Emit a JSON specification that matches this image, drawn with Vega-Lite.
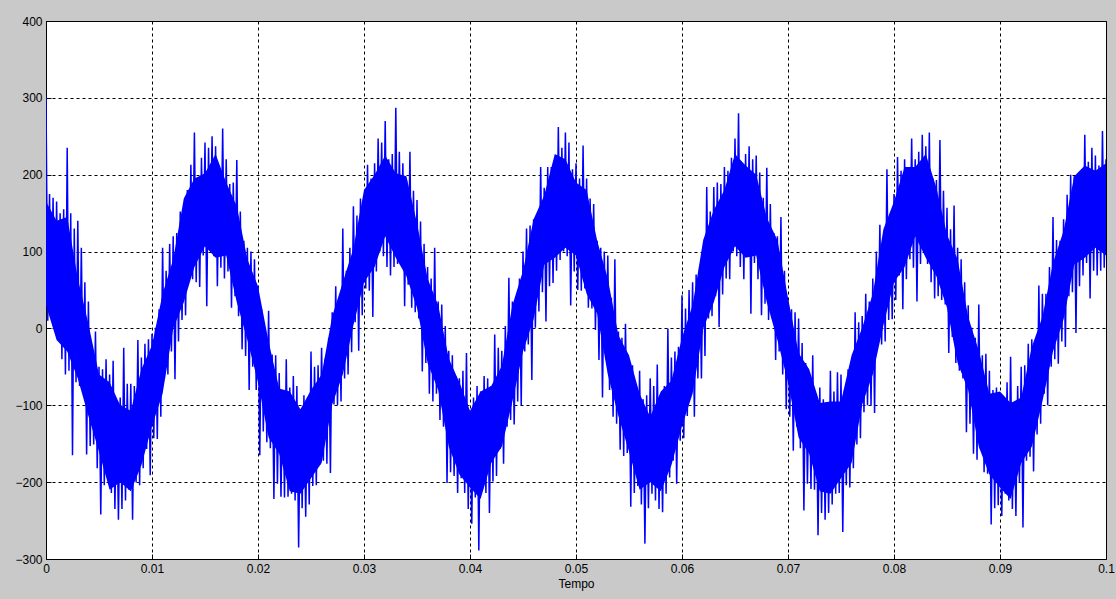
{
"$schema": "https://vega.github.io/schema/vega-lite/v6.json",
"width": 1060,
"height": 538,
"autosize": {"type": "none"},
"padding": {"left": 46, "top": 21, "right": 10, "bottom": 40},
"background": "#c9c9c9",
"config": {
"view": {"fill": "#ffffff", "stroke": "#000000", "strokeWidth": 1},
"axis": {"labelFont": "Liberation Sans", "labelFontSize": 12, "labelColor": "#000000", "titleFont": "Liberation Sans", "titleFontSize": 12, "titleFontWeight": "normal", "titleColor": "#000000", "grid": true, "gridColor": "#000000", "gridDash": [3, 3], "gridOpacity": 1, "gridWidth": 1, "domain": false, "ticks": true, "tickColor": "#000000", "tickSize": -5, "tickWidth": 1, "labelPadding": 9, "labelFlush": false, "labelOverlap": false, "labelBound": false}
},
"datasets": {
"core": [
{"t":0,"lo":30,"hi":165},{"t":0.001,"lo":-15,"hi":140},{"t":0.002,"lo":-30,"hi":145},{"t":0.003,"lo":-65,"hi":65},{"t":0.004,"lo":-114,"hi":6},
{"t":0.005,"lo":-160,"hi":-60},{"t":0.006,"lo":-210,"hi":-70},{"t":0.007,"lo":-200,"hi":-100},{"t":0.008,"lo":-212,"hi":-107},{"t":0.009,"lo":-178,"hi":-53},
{"t":0.01,"lo":-127,"hi":-22},{"t":0.011,"lo":-85,"hi":45},{"t":0.012,"lo":0,"hi":90},{"t":0.013,"lo":34,"hi":169},{"t":0.014,"lo":80,"hi":195},
{"t":0.015,"lo":107,"hi":202},{"t":0.016,"lo":92,"hi":227},{"t":0.017,"lo":95,"hi":190},{"t":0.018,"lo":34,"hi":159},{"t":0.019,"lo":-15,"hi":90},
{"t":0.02,"lo":-70,"hi":55},{"t":0.021,"lo":-142,"hi":-17},{"t":0.022,"lo":-163,"hi":-78},{"t":0.023,"lo":-212,"hi":-82},{"t":0.024,"lo":-215,"hi":-105},
{"t":0.025,"lo":-195,"hi":-80},{"t":0.026,"lo":-175,"hi":-60},{"t":0.027,"lo":-99,"hi":16},{"t":0.028,"lo":-60,"hi":60},{"t":0.029,"lo":4,"hi":104},
{"t":0.03,"lo":60,"hi":180},{"t":0.031,"lo":80,"hi":200},{"t":0.032,"lo":120,"hi":225},{"t":0.033,"lo":92,"hi":202},{"t":0.034,"lo":68,"hi":198},
{"t":0.035,"lo":27,"hi":137},{"t":0.036,"lo":-45,"hi":65},{"t":0.037,"lo":-80,"hi":30},{"t":0.038,"lo":-154,"hi":-39},{"t":0.039,"lo":-190,"hi":-70},
{"t":0.04,"lo":-207,"hi":-107},{"t":0.041,"lo":-222,"hi":-82},{"t":0.042,"lo":-175,"hi":-75},{"t":0.043,"lo":-154,"hi":-49},{"t":0.044,"lo":-95,"hi":30},
{"t":0.045,"lo":-30,"hi":75},{"t":0.046,"lo":12,"hi":142},{"t":0.047,"lo":83,"hi":173},{"t":0.048,"lo":92,"hi":227},{"t":0.049,"lo":105,"hi":220},
{"t":0.05,"lo":95,"hi":190},{"t":0.051,"lo":45,"hi":180},{"t":0.052,"lo":19,"hi":114},{"t":0.053,"lo":-60,"hi":65},{"t":0.054,"lo":-114,"hi":-9},
{"t":0.055,"lo":-160,"hi":-35},{"t":0.056,"lo":-210,"hi":-85},{"t":0.057,"lo":-200,"hi":-115},{"t":0.058,"lo":-212,"hi":-82},{"t":0.059,"lo":-178,"hi":-68},
{"t":0.06,"lo":-127,"hi":-12},{"t":0.061,"lo":-85,"hi":30},{"t":0.062,"lo":0,"hi":115},{"t":0.063,"lo":34,"hi":154},{"t":0.064,"lo":80,"hi":180},
{"t":0.065,"lo":107,"hi":227},{"t":0.066,"lo":92,"hi":212},{"t":0.067,"lo":95,"hi":200},{"t":0.068,"lo":34,"hi":144},{"t":0.069,"lo":-15,"hi":115},
{"t":0.07,"lo":-70,"hi":40},{"t":0.071,"lo":-142,"hi":-32},{"t":0.072,"lo":-163,"hi":-53},{"t":0.073,"lo":-212,"hi":-97},{"t":0.074,"lo":-215,"hi":-95},
{"t":0.075,"lo":-195,"hi":-95},{"t":0.076,"lo":-175,"hi":-35},{"t":0.077,"lo":-99,"hi":1},{"t":0.078,"lo":-60,"hi":45},{"t":0.079,"lo":4,"hi":129},
{"t":0.08,"lo":60,"hi":165},{"t":0.081,"lo":80,"hi":210},{"t":0.082,"lo":120,"hi":210},{"t":0.083,"lo":92,"hi":227},{"t":0.084,"lo":68,"hi":183},
{"t":0.085,"lo":27,"hi":122},{"t":0.086,"lo":-45,"hi":90},{"t":0.087,"lo":-80,"hi":15},{"t":0.088,"lo":-154,"hi":-29},{"t":0.089,"lo":-190,"hi":-85},
{"t":0.09,"lo":-207,"hi":-82},{"t":0.091,"lo":-222,"hi":-97},{"t":0.092,"lo":-175,"hi":-90},{"t":0.093,"lo":-154,"hi":-24},{"t":0.094,"lo":-95,"hi":15},
{"t":0.095,"lo":-30,"hi":85},{"t":0.096,"lo":12,"hi":127},{"t":0.097,"lo":83,"hi":198},{"t":0.098,"lo":92,"hi":212},{"t":0.099,"lo":105,"hi":205},
{"t":0.1,"lo":95,"hi":215}
],
"sig": [
{"t":0,"v":300},{"t":0.000167,"v":10},{"t":0.000333,"v":175},{"t":0.0005,"v":25},{"t":0.000667,"v":170},{"t":0.000833,"v":5},
{"t":0.001,"v":165},{"t":0.001167,"v":20},{"t":0.001333,"v":150},{"t":0.0015,"v":-40},{"t":0.001667,"v":155},{"t":0.001833,"v":-60},
{"t":0.002,"v":235},{"t":0.002167,"v":-55},{"t":0.002333,"v":150},{"t":0.0025,"v":-165},{"t":0.002667,"v":130},{"t":0.002833,"v":-70},
{"t":0.003,"v":140},{"t":0.003167,"v":-75},{"t":0.003333,"v":105},{"t":0.0035,"v":-80},{"t":0.003667,"v":60},{"t":0.003833,"v":-164},
{"t":0.004,"v":35},{"t":0.004167,"v":-153},{"t":0.004333,"v":-22},{"t":0.0045,"v":-151},{"t":0.004667,"v":-4},{"t":0.004833,"v":-182},
{"t":0.005,"v":-50},{"t":0.005167,"v":-242},{"t":0.005333,"v":-53},{"t":0.0055,"v":-204},{"t":0.005667,"v":-40},{"t":0.005833,"v":-195},
{"t":0.006,"v":-60},{"t":0.006167,"v":-214},{"t":0.006333,"v":-42},{"t":0.0065,"v":-235},{"t":0.006667,"v":-97},{"t":0.006833,"v":-249},
{"t":0.007,"v":-90},{"t":0.007167,"v":-235},{"t":0.007333,"v":-25},{"t":0.0075,"v":-224},{"t":0.007667,"v":-72},{"t":0.007833,"v":-210},
{"t":0.008,"v":-72},{"t":0.008167,"v":-249},{"t":0.008333,"v":-75},{"t":0.0085,"v":-200},{"t":0.008667,"v":-15},{"t":0.008833,"v":-204},
{"t":0.009,"v":-38},{"t":0.009167,"v":-182},{"t":0.009333,"v":-20},{"t":0.0095,"v":-157},{"t":0.009667,"v":-14},{"t":0.009833,"v":-191},
{"t":0.01,"v":-7},{"t":0.010167,"v":-143},{"t":0.010333,"v":1},{"t":0.0105,"v":-144},{"t":0.010667,"v":25},{"t":0.010833,"v":-115},
{"t":0.011,"v":105},{"t":0.011167,"v":-65},{"t":0.011333,"v":75},{"t":0.0115,"v":-60},{"t":0.011667,"v":110},{"t":0.011833,"v":-30},
{"t":0.012,"v":120},{"t":0.012167,"v":-66},{"t":0.012333,"v":124},{"t":0.0125,"v":-17},{"t":0.012667,"v":152},{"t":0.012833,"v":11},
{"t":0.013,"v":154},{"t":0.013167,"v":17},{"t":0.013333,"v":180},{"t":0.0135,"v":62},{"t":0.013667,"v":213},{"t":0.013833,"v":64},
{"t":0.014,"v":255},{"t":0.014167,"v":60},{"t":0.014333,"v":195},{"t":0.0145,"v":54},{"t":0.014667,"v":222},{"t":0.014833,"v":95},
{"t":0.015,"v":242},{"t":0.015167,"v":29},{"t":0.015333,"v":235},{"t":0.0155,"v":105},{"t":0.015667,"v":250},{"t":0.015833,"v":94},
{"t":0.016,"v":237},{"t":0.016167,"v":55},{"t":0.016333,"v":212},{"t":0.0165,"v":79},{"t":0.016667,"v":260},{"t":0.016833,"v":65},
{"t":0.017,"v":220},{"t":0.017167,"v":74},{"t":0.017333,"v":188},{"t":0.0175,"v":27},{"t":0.017667,"v":190},{"t":0.017833,"v":42},
{"t":0.018,"v":219},{"t":0.018167,"v":16},{"t":0.018333,"v":152},{"t":0.0185,"v":-27},{"t":0.018667,"v":114},{"t":0.018833,"v":-36},
{"t":0.019,"v":105},{"t":0.019167,"v":-80},{"t":0.019333,"v":100},{"t":0.0195,"v":-50},{"t":0.019667,"v":90},{"t":0.019833,"v":-80},
{"t":0.02,"v":55},{"t":0.020167,"v":-165},{"t":0.020333,"v":25},{"t":0.0205,"v":-134},{"t":0.020667,"v":-4},{"t":0.020833,"v":-148},
{"t":0.021,"v":23},{"t":0.021167,"v":-156},{"t":0.021333,"v":-34},{"t":0.0215,"v":-222},{"t":0.021667,"v":-35},{"t":0.021833,"v":-202},
{"t":0.022,"v":-58},{"t":0.022167,"v":-219},{"t":0.022333,"v":-80},{"t":0.0225,"v":-220},{"t":0.022667,"v":-40},{"t":0.022833,"v":-219},
{"t":0.023,"v":-77},{"t":0.023167,"v":-215},{"t":0.023333,"v":-62},{"t":0.0235,"v":-224},{"t":0.023667,"v":-75},{"t":0.023833,"v":-285},
{"t":0.024,"v":-105},{"t":0.024167,"v":-234},{"t":0.024333,"v":-87},{"t":0.0245,"v":-245},{"t":0.024667,"v":-92},{"t":0.024833,"v":-229},
{"t":0.025,"v":-30},{"t":0.025167,"v":-205},{"t":0.025333,"v":-50},{"t":0.0255,"v":-204},{"t":0.025667,"v":-48},{"t":0.025833,"v":-177},
{"t":0.026,"v":-25},{"t":0.026167,"v":-172},{"t":0.026333,"v":-39},{"t":0.0265,"v":-176},{"t":0.026667,"v":-12},{"t":0.026833,"v":-188},
{"t":0.027,"v":21},{"t":0.027167,"v":-99},{"t":0.027333,"v":55},{"t":0.0275,"v":-100},{"t":0.027667,"v":40},{"t":0.027833,"v":-95},
{"t":0.028,"v":130},{"t":0.028167,"v":-65},{"t":0.028333,"v":75},{"t":0.0285,"v":-60},{"t":0.028667,"v":105},{"t":0.028833,"v":-31},
{"t":0.029,"v":159},{"t":0.029167,"v":8},{"t":0.029333,"v":147},{"t":0.0295,"v":-29},{"t":0.029667,"v":169},{"t":0.029833,"v":17},
{"t":0.03,"v":165},{"t":0.030167,"v":52},{"t":0.030333,"v":213},{"t":0.0305,"v":49},{"t":0.030667,"v":195},{"t":0.030833,"v":15},
{"t":0.031,"v":215},{"t":0.031167,"v":74},{"t":0.031333,"v":247},{"t":0.0315,"v":100},{"t":0.031667,"v":242},{"t":0.031833,"v":94},
{"t":0.032,"v":270},{"t":0.032167,"v":80},{"t":0.032333,"v":220},{"t":0.0325,"v":69},{"t":0.032667,"v":227},{"t":0.032833,"v":80},
{"t":0.033,"v":287},{"t":0.033167,"v":84},{"t":0.033333,"v":230},{"t":0.0335,"v":85},{"t":0.033667,"v":215},{"t":0.033833,"v":29},
{"t":0.034,"v":193},{"t":0.034167,"v":57},{"t":0.034333,"v":230},{"t":0.0345,"v":27},{"t":0.034667,"v":179},{"t":0.034833,"v":21},
{"t":0.035,"v":167},{"t":0.035167,"v":13},{"t":0.035333,"v":139},{"t":0.0355,"v":-56},{"t":0.035667,"v":110},{"t":0.035833,"v":-45},
{"t":0.036,"v":80},{"t":0.036167,"v":-85},{"t":0.036333,"v":65},{"t":0.0365,"v":-95},{"t":0.036667,"v":105},{"t":0.036833,"v":-85},
{"t":0.037,"v":35},{"t":0.037167,"v":-119},{"t":0.037333,"v":31},{"t":0.0375,"v":-128},{"t":0.037667,"v":3},{"t":0.037833,"v":-201},
{"t":0.038,"v":-29},{"t":0.038167,"v":-187},{"t":0.038333,"v":-35},{"t":0.0385,"v":-192},{"t":0.038667,"v":-63},{"t":0.038833,"v":-214},
{"t":0.039,"v":-65},{"t":0.039167,"v":-195},{"t":0.039333,"v":-55},{"t":0.0395,"v":-214},{"t":0.039667,"v":-32},{"t":0.039833,"v":-235},
{"t":0.04,"v":-107},{"t":0.040167,"v":-254},{"t":0.040333,"v":-90},{"t":0.0405,"v":-220},{"t":0.040667,"v":-75},{"t":0.040833,"v":-289},
{"t":0.041,"v":-82},{"t":0.041167,"v":-210},{"t":0.041333,"v":-62},{"t":0.0415,"v":-214},{"t":0.041667,"v":-65},{"t":0.041833,"v":-240},
{"t":0.042,"v":-75},{"t":0.042167,"v":-199},{"t":0.042333,"v":-8},{"t":0.0425,"v":-192},{"t":0.042667,"v":-25},{"t":0.042833,"v":-157},
{"t":0.043,"v":-29},{"t":0.043167,"v":-176},{"t":0.043333,"v":3},{"t":0.0435,"v":-128},{"t":0.043667,"v":66},{"t":0.043833,"v":-119},
{"t":0.044,"v":35},{"t":0.044167,"v":-125},{"t":0.044333,"v":35},{"t":0.0445,"v":-95},{"t":0.044667,"v":65},{"t":0.044833,"v":-100},
{"t":0.045,"v":100},{"t":0.045167,"v":-30},{"t":0.045333,"v":130},{"t":0.0455,"v":-21},{"t":0.045667,"v":134},{"t":0.045833,"v":-67},
{"t":0.046,"v":142},{"t":0.046167,"v":1},{"t":0.046333,"v":149},{"t":0.0465,"v":22},{"t":0.046667,"v":210},{"t":0.046833,"v":47},
{"t":0.047,"v":183},{"t":0.047167,"v":9},{"t":0.047333,"v":210},{"t":0.0475,"v":55},{"t":0.047667,"v":210},{"t":0.047833,"v":59},
{"t":0.048,"v":207},{"t":0.048167,"v":75},{"t":0.048333,"v":262},{"t":0.0485,"v":89},{"t":0.048667,"v":235},{"t":0.048833,"v":100},
{"t":0.049,"v":255},{"t":0.049167,"v":94},{"t":0.049333,"v":242},{"t":0.0495,"v":30},{"t":0.049667,"v":207},{"t":0.049833,"v":74},
{"t":0.05,"v":215},{"t":0.050167,"v":50},{"t":0.050333,"v":195},{"t":0.0505,"v":49},{"t":0.050667,"v":238},{"t":0.050833,"v":52},
{"t":0.051,"v":195},{"t":0.051167,"v":27},{"t":0.051333,"v":169},{"t":0.0515,"v":26},{"t":0.051667,"v":162},{"t":0.051833,"v":-2},
{"t":0.052,"v":114},{"t":0.052167,"v":-41},{"t":0.052333,"v":105},{"t":0.0525,"v":-90},{"t":0.052667,"v":100},{"t":0.052833,"v":-40},
{"t":0.053,"v":95},{"t":0.053167,"v":-80},{"t":0.053333,"v":40},{"t":0.0535,"v":-115},{"t":0.053667,"v":90},{"t":0.053833,"v":-124},
{"t":0.054,"v":-4},{"t":0.054167,"v":-158},{"t":0.054333,"v":-12},{"t":0.0545,"v":-166},{"t":0.054667,"v":6},{"t":0.054833,"v":-162},
{"t":0.055,"v":-40},{"t":0.055167,"v":-232},{"t":0.055333,"v":-48},{"t":0.0555,"v":-214},{"t":0.055667,"v":-80},{"t":0.055833,"v":-205},
{"t":0.056,"v":-55},{"t":0.056167,"v":-229},{"t":0.056333,"v":-92},{"t":0.0565,"v":-280},{"t":0.056667,"v":-87},{"t":0.056833,"v":-234},
{"t":0.057,"v":-65},{"t":0.057167,"v":-215},{"t":0.057333,"v":-75},{"t":0.0575,"v":-224},{"t":0.057667,"v":-47},{"t":0.057833,"v":-235},
{"t":0.058,"v":-92},{"t":0.058167,"v":-239},{"t":0.058333,"v":-75},{"t":0.0585,"v":-215},{"t":0.058667,"v":0},{"t":0.058833,"v":-194},
{"t":0.059,"v":-38},{"t":0.059167,"v":-172},{"t":0.059333,"v":-30},{"t":0.0595,"v":-202},{"t":0.059667,"v":-24},{"t":0.059833,"v":-146},
{"t":0.06,"v":43},{"t":0.060167,"v":-143},{"t":0.060333,"v":26},{"t":0.0605,"v":-114},{"t":0.060667,"v":50},{"t":0.060833,"v":-85},
{"t":0.061,"v":60},{"t":0.061167,"v":-115},{"t":0.061333,"v":70},{"t":0.0615,"v":-65},{"t":0.061667,"v":80},{"t":0.061833,"v":-65},
{"t":0.062,"v":105},{"t":0.062167,"v":-36},{"t":0.062333,"v":184},{"t":0.0625,"v":13},{"t":0.062667,"v":152},{"t":0.062833,"v":16},
{"t":0.063,"v":184},{"t":0.063167,"v":42},{"t":0.063333,"v":190},{"t":0.0635,"v":2},{"t":0.063667,"v":188},{"t":0.063833,"v":44},
{"t":0.064,"v":210},{"t":0.064167,"v":65},{"t":0.064333,"v":205},{"t":0.0645,"v":64},{"t":0.064667,"v":222},{"t":0.064833,"v":100},
{"t":0.065,"v":247},{"t":0.065167,"v":94},{"t":0.065333,"v":280},{"t":0.0655,"v":80},{"t":0.065667,"v":210},{"t":0.065833,"v":64},
{"t":0.066,"v":227},{"t":0.066167,"v":95},{"t":0.066333,"v":237},{"t":0.0665,"v":19},{"t":0.066667,"v":220},{"t":0.066833,"v":85},
{"t":0.067,"v":225},{"t":0.067167,"v":64},{"t":0.067333,"v":203},{"t":0.0675,"v":17},{"t":0.067667,"v":170},{"t":0.067833,"v":32},
{"t":0.068,"v":209},{"t":0.068167,"v":11},{"t":0.068333,"v":162},{"t":0.0685,"v":13},{"t":0.068667,"v":124},{"t":0.068833,"v":-41},
{"t":0.069,"v":120},{"t":0.069167,"v":-30},{"t":0.069333,"v":145},{"t":0.0695,"v":-60},{"t":0.069667,"v":75},{"t":0.069833,"v":-105},
{"t":0.07,"v":35},{"t":0.070167,"v":-115},{"t":0.070333,"v":25},{"t":0.0705,"v":-159},{"t":0.070667,"v":21},{"t":0.070833,"v":-128},
{"t":0.071,"v":13},{"t":0.071167,"v":-156},{"t":0.071333,"v":-19},{"t":0.0715,"v":-237},{"t":0.071667,"v":-45},{"t":0.071833,"v":-202},
{"t":0.072,"v":-68},{"t":0.072167,"v":-209},{"t":0.072333,"v":-35},{"t":0.0725,"v":-210},{"t":0.072667,"v":-85},{"t":0.072833,"v":-269},
{"t":0.073,"v":-77},{"t":0.073167,"v":-240},{"t":0.073333,"v":-92},{"t":0.0735,"v":-249},{"t":0.073667,"v":-105},{"t":0.073833,"v":-240},
{"t":0.074,"v":-55},{"t":0.074167,"v":-229},{"t":0.074333,"v":-82},{"t":0.0745,"v":-215},{"t":0.074667,"v":-57},{"t":0.074833,"v":-214},
{"t":0.075,"v":-60},{"t":0.075167,"v":-265},{"t":0.075333,"v":-80},{"t":0.0755,"v":-204},{"t":0.075667,"v":-53},{"t":0.075833,"v":-207},
{"t":0.076,"v":-50},{"t":0.076167,"v":-182},{"t":0.076333,"v":21},{"t":0.0765,"v":-151},{"t":0.076667,"v":8},{"t":0.076833,"v":-143},
{"t":0.077,"v":16},{"t":0.077167,"v":-109},{"t":0.077333,"v":45},{"t":0.0775,"v":-100},{"t":0.077667,"v":35},{"t":0.077833,"v":-100},
{"t":0.078,"v":65},{"t":0.078167,"v":-110},{"t":0.078333,"v":100},{"t":0.0785,"v":-20},{"t":0.078667,"v":135},{"t":0.078833,"v":-21},
{"t":0.079,"v":119},{"t":0.079167,"v":-17},{"t":0.079333,"v":207},{"t":0.0795,"v":11},{"t":0.079667,"v":149},{"t":0.079833,"v":12},
{"t":0.08,"v":175},{"t":0.080167,"v":37},{"t":0.080333,"v":223},{"t":0.0805,"v":69},{"t":0.080667,"v":205},{"t":0.080833,"v":25},
{"t":0.081,"v":220},{"t":0.081167,"v":64},{"t":0.081333,"v":207},{"t":0.0815,"v":90},{"t":0.081667,"v":247},{"t":0.081833,"v":79},
{"t":0.082,"v":220},{"t":0.082167,"v":35},{"t":0.082333,"v":230},{"t":0.0825,"v":84},{"t":0.082667,"v":252},{"t":0.082833,"v":100},
{"t":0.083,"v":237},{"t":0.083167,"v":84},{"t":0.083333,"v":255},{"t":0.0835,"v":60},{"t":0.083667,"v":195},{"t":0.083833,"v":39},
{"t":0.084,"v":193},{"t":0.084167,"v":42},{"t":0.084333,"v":245},{"t":0.0845,"v":37},{"t":0.084667,"v":179},{"t":0.084833,"v":31},
{"t":0.085,"v":157},{"t":0.085167,"v":-32},{"t":0.085333,"v":129},{"t":0.0855,"v":-11},{"t":0.085667,"v":160},{"t":0.085833,"v":-45},
{"t":0.086,"v":105},{"t":0.086167,"v":-55},{"t":0.086333,"v":90},{"t":0.0865,"v":-65},{"t":0.086667,"v":60},{"t":0.086833,"v":-135},
{"t":0.087,"v":30},{"t":0.087167,"v":-124},{"t":0.087333,"v":1},{"t":0.0875,"v":-163},{"t":0.087667,"v":-12},{"t":0.087833,"v":-171},
{"t":0.088,"v":31},{"t":0.088167,"v":-157},{"t":0.088333,"v":-35},{"t":0.0885,"v":-187},{"t":0.088667,"v":-33},{"t":0.088833,"v":-189},
{"t":0.089,"v":-55},{"t":0.089167,"v":-255},{"t":0.089333,"v":-80},{"t":0.0895,"v":-234},{"t":0.089667,"v":-77},{"t":0.089833,"v":-230},
{"t":0.09,"v":-97},{"t":0.090167,"v":-244},{"t":0.090333,"v":-90},{"t":0.0905,"v":-215},{"t":0.090667,"v":-70},{"t":0.090833,"v":-224},
{"t":0.091,"v":-37},{"t":0.091167,"v":-235},{"t":0.091333,"v":-102},{"t":0.0915,"v":-244},{"t":0.091667,"v":-75},{"t":0.091833,"v":-200},
{"t":0.092,"v":-50},{"t":0.092167,"v":-259},{"t":0.092333,"v":-48},{"t":0.0925,"v":-172},{"t":0.092667,"v":-20},{"t":0.092833,"v":-167},
{"t":0.093,"v":-14},{"t":0.093167,"v":-186},{"t":0.093333,"v":-17},{"t":0.0935,"v":-138},{"t":0.093667,"v":56},{"t":0.093833,"v":-124},
{"t":0.094,"v":45},{"t":0.094167,"v":-85},{"t":0.094333,"v":45},{"t":0.0945,"v":-100},{"t":0.094667,"v":80},{"t":0.094833,"v":-50},
{"t":0.095,"v":145},{"t":0.095167,"v":-40},{"t":0.095333,"v":115},{"t":0.0955,"v":-46},{"t":0.095667,"v":114},{"t":0.095833,"v":-17},
{"t":0.096,"v":142},{"t":0.096167,"v":-24},{"t":0.096333,"v":174},{"t":0.0965,"v":42},{"t":0.096667,"v":200},{"t":0.096833,"v":47},
{"t":0.097,"v":198},{"t":0.097167,"v":-6},{"t":0.097333,"v":200},{"t":0.0975,"v":55},{"t":0.097667,"v":200},{"t":0.097833,"v":69},
{"t":0.098,"v":252},{"t":0.098167,"v":85},{"t":0.098333,"v":217},{"t":0.0985,"v":39},{"t":0.098667,"v":235},{"t":0.098833,"v":75},
{"t":0.099,"v":225},{"t":0.099167,"v":69},{"t":0.099333,"v":212},{"t":0.0995,"v":75},{"t":0.099667,"v":257},{"t":0.099833,"v":79},
{"t":0.1,"v":220}
]
},
"layer": [
{
"data": {"name": "core"},
"mark": {"type": "area", "color": "#0000ff", "opacity": 1, "clip": true},
"encoding": {
"x": {"field": "t", "type": "quantitative", "scale": {"domain": [0, 0.1], "nice": false, "zero": false}, "axis": {"values": [0, 0.01, 0.02, 0.03, 0.04, 0.05, 0.06, 0.07, 0.08, 0.09, 0.1], "format": "~g", "title": "Tempo"}},
"y": {"field": "lo", "type": "quantitative", "scale": {"domain": [-300, 400], "nice": false, "zero": false}, "axis": {"values": [-300, -200, -100, 0, 100, 200, 300, 400], "title": null}},
"y2": {"field": "hi"}
}
},
{
"data": {"name": "sig"},
"mark": {"type": "line", "color": "#0000ff", "strokeWidth": 1.5, "clip": true},
"encoding": {
"x": {"field": "t", "type": "quantitative"},
"y": {"field": "v", "type": "quantitative"}
}
}
]
}
